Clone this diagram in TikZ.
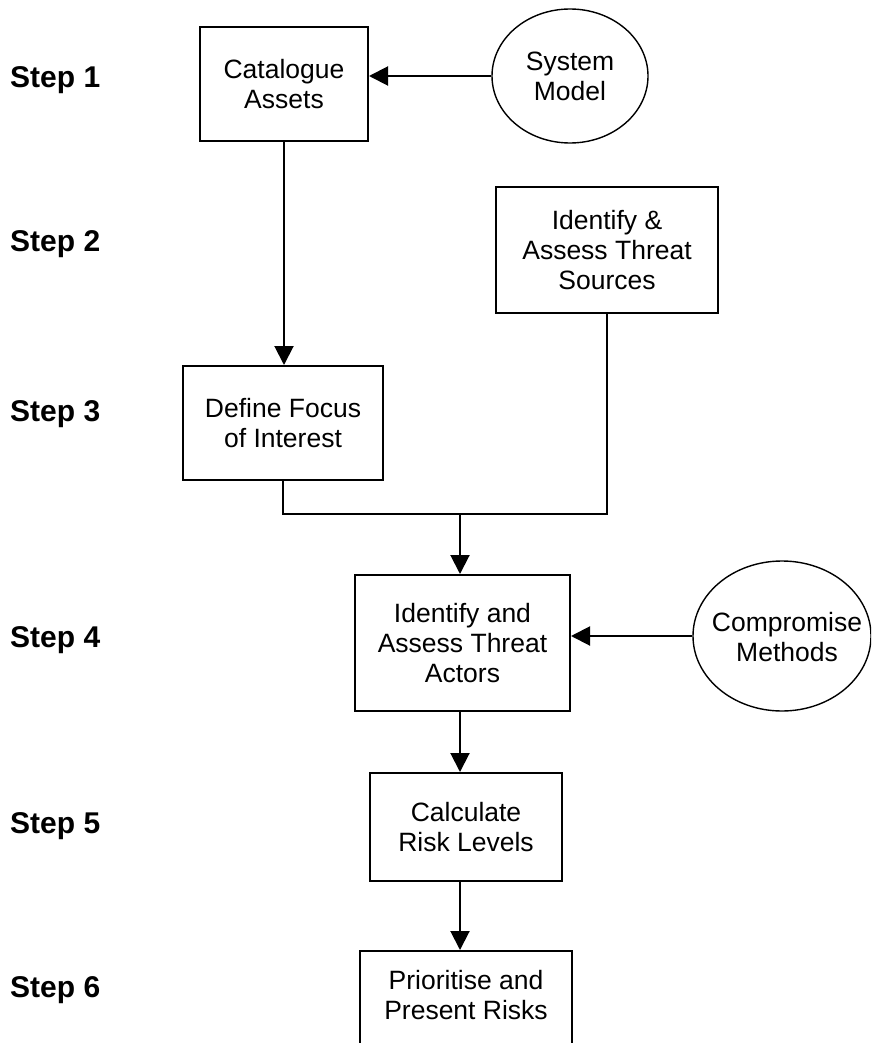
\documentclass[tikz,border=0pt]{standalone}
\usepackage{fontspec}
\setmainfont{Liberation Sans}
\usetikzlibrary{shapes.geometric,arrows.meta}

\tikzset{
  stepbox/.style={draw, line width=2pt, rectangle, inner sep=0pt, align=center,
    font=\fontsize{26.5}{30}\selectfont},
  source/.style={draw, line width=1.4pt, ellipse, inner sep=0pt},
  boxtext/.style={inner sep=0pt, align=center, font=\fontsize{26.5}{30}\selectfont},
  steplabel/.style={anchor=base west, inner sep=0pt,
    font=\fontsize{30}{36}\selectfont\bfseries},
  flow/.style={line width=2pt, -{Triangle[length=19pt,width=19pt]}},
  link/.style={line width=2pt}
}

\begin{document}
\begin{tikzpicture}[x=1pt, y=-1pt]
\useasboundingbox (0,0) rectangle (871,1043);
\clip (0,0) rectangle (871,1043);
\fill[white] (0,0) rectangle (871,1043);

% step labels
\node[steplabel] (s1) at (10,88)  {Step 1};
\node[steplabel] (s2) at (10,251) {Step 2};
\node[steplabel] (s3) at (10,421) {Step 3};
\node[steplabel] (s4) at (10,647) {Step 4};
\node[steplabel] (s5) at (10,833) {Step 5};
\node[steplabel] (s6) at (10,997) {Step 6};

% process boxes
\node[stepbox, minimum width=168pt, minimum height=114pt] (cat) at (284,84)
  {Catalogue\\Assets};
\node[stepbox, minimum width=200pt, minimum height=114pt] (focus) at (283,423)
  {Define Focus\\of Interest};
\node[stepbox, minimum width=222pt, minimum height=126pt] (sources) at (607,250)
  {Identify \&\\Assess Threat\\Sources};
\node[stepbox, minimum width=215pt, minimum height=136pt] (actors) at (462.5,643)
  {Identify and\\Assess Threat\\Actors};
\node[stepbox, minimum width=192pt, minimum height=108pt] (calc) at (466,827)
  {Calculate\\Risk Levels};
\node[stepbox, minimum width=212pt, minimum height=130pt, anchor=north] (prior) at (466,950) {};
\node[boxtext] (priortext) at (466,995) {Prioritise and\\Present Risks};

% external inputs: fixed-size ellipses with their labels set on top
\node[source, minimum width=156pt, minimum height=134pt] (sysmodel) at (570,76) {};
\node[boxtext] (sysmodeltext) at (570,76) {System\\Model};
\node[source, minimum width=178pt, minimum height=150pt] (compromise) at (782,636) {};
\node[boxtext] (compromisetext) at (787,637) {Compromise\\Methods};

% connectors
\coordinate (junc) at (460,514);
\draw[flow] (sysmodel.west) -- (sysmodel.west -| cat.east);
\draw[flow] (cat.south) -- (cat.south |- focus.north);
\draw[link] (focus.south) -- (focus.south |- junc) -- (sources.south |- junc) -- (sources.south);
\draw[flow] (junc) -- (junc |- actors.north);
\draw[flow] (compromise.west) -- (compromise.west -| actors.east);
\draw[flow] (actors.south -| junc) -- (junc |- calc.north);
\draw[flow] (calc.south -| junc) -- (junc |- prior.north);
\end{tikzpicture}
\end{document}
